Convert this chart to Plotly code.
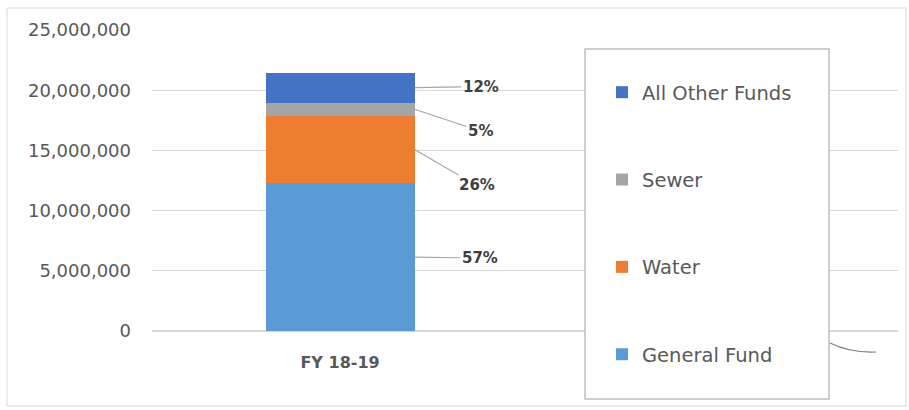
import plotly.graph_objects as go

categories = ["FY 18-19"]
series_names = ["General Fund", "Water", "Sewer", "All Other Funds"]
general_fund = [12280000]
water = [5600000]
sewer = [1080000]
other_funds = [2500000]
colors = ["#5B9BD5", "#ED7D31", "#A5A5A5", "#4472C4"]
y_ticks = [0, 5000000, 10000000, 15000000, 20000000, 25000000]

series_values = [general_fund, water, sewer, other_funds]

W, H = 909, 410
L, R, T, B = 152, 11, 30, 79
pw, ph = W - L - R, H - T - B

def px_x(p):
    return (p - L) / pw

def px_y(p):
    return (H - B - p) / ph

fig = go.Figure()
n = len(series_names)
for i, (name, vals, col) in enumerate(zip(series_names, series_values, colors)):
    fig.add_trace(go.Bar(
        x=categories, y=vals, name=name, marker=dict(color=col, line=dict(width=0)),
        width=0.5, legendgroup=name, legendrank=n - i, hoverinfo="skip",
    ))

total = sum(v[0] for v in series_values)
label_offsets = {  # (ax, ay) pixel offsets of the label from the bar edge
    "General Fund": (65, 1),
    "Water": (62, 36),
    "Sewer": (66, 22),
    "All Other Funds": (66, -1),
}
annotations = []
cum = 0
for name, vals in zip(series_names, series_values):
    v = vals[0]
    mid = cum + v / 2
    cum += v
    ax, ay = label_offsets[name]
    annotations.append(dict(
        x=0.25, y=mid, xref="x", yref="y", text=f"<b>{round(v / total * 100)}%</b>",
        showarrow=True, arrowhead=0, arrowwidth=1.2, arrowcolor="#A6A6A6",
        ax=ax, ay=ay, standoff=0, startstandoff=0,
        font=dict(family="DejaVu Sans", size=15, color="#404040"),
    ))

shapes = [
    # chart area border
    dict(type="rect", xref="paper", yref="paper", x0=px_x(7), x1=px_x(906), y0=px_y(406), y1=px_y(8),
         line=dict(color="#D9D9D9", width=1), fillcolor="rgba(0,0,0,0)", layer="below"),
    # legend box
    dict(type="rect", xref="paper", yref="paper", x0=px_x(585), x1=px_x(829), y0=px_y(399), y1=px_y(49),
         line=dict(color="#BFBFBF", width=1.5), fillcolor="white", layer="above"),
    # small stroke at the right
    dict(type="path", xref="paper", yref="paper",
         path=f"M {px_x(830)},{px_y(343)} Q {px_x(850)},{px_y(353)} {px_x(876)},{px_y(352)}",
         line=dict(color="#7F7F7F", width=1.2), layer="above"),
]

fig.update_layout(
    width=W, height=H,
    margin=dict(l=L, r=R, t=T, b=B),
    paper_bgcolor="white", plot_bgcolor="white",
    barmode="stack",
    font=dict(family="DejaVu Sans", color="#595959"),
    xaxis=dict(
        type="category", range=[-0.631, 1.872], showgrid=False, zeroline=False, showline=False,
        ticks="", ticklabelstandoff=20, tickfont=dict(family="DejaVu Sans", size=16, color="#595959"),
        tickvals=categories, ticktext=[f"<b>{c}</b>" for c in categories],
    ),
    yaxis=dict(
        range=[0, 25000000], tickvals=y_ticks, tickformat=",",
        showgrid=True, gridcolor="#D9D9D9", gridwidth=1, zeroline=True, zerolinecolor="#D9D9D9",
        showline=False, ticks="", ticklabelstandoff=20,
        tickfont=dict(family="DejaVu Sans", size=18, color="#595959"),
    ),
    legend=dict(
        x=px_x(602), y=px_y(73), xanchor="left", yanchor="top",
        traceorder="grouped", tracegroupgap=59, maxheight=400,
        bgcolor="rgba(0,0,0,0)", borderwidth=0,
        font=dict(family="DejaVu Sans", size=19.5, color="#595959"),
    ),
    shapes=shapes,
    annotations=annotations,
)

fig.write_html("out.html")
